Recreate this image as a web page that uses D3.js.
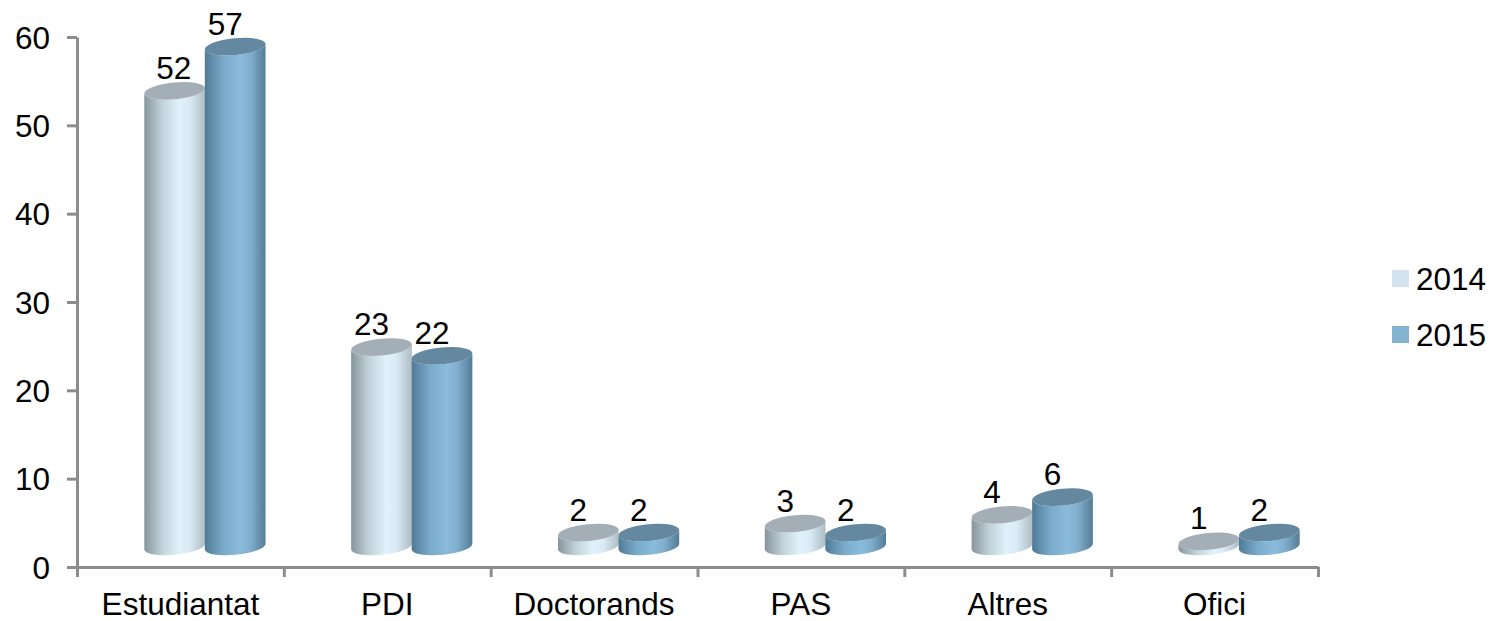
<!DOCTYPE html>
<html>
<head>
<meta charset="utf-8">
<script src="https://cdn.jsdelivr.net/npm/d3@7"></script>
<style>
  html, body { margin: 0; padding: 0; background: #fff; }
  svg { display: block; }
  text { font-family: "Liberation Sans", Arial, sans-serif; fill: #000; }
  .axis path, .axis line { stroke: #8c8c8c; stroke-width: 3; }
</style>
</head>
<body>
<svg id="chart" width="1495" height="621"></svg>
<script>
const categories = ['Estudiantat', 'PDI', 'Doctorands', 'PAS', 'Altres', 'Ofici'];
const seriesNames = ['2014', '2015'];
const values2014 = [52, 23, 2, 3, 4, 1];
const values2015 = [57, 22, 2, 2, 6, 2];
const yTicks = [0, 10, 20, 30, 40, 50, 60];

const seriesColors = ['#d4e3ee', '#84b3d1'];
const topColors = ['#a3aeb6', '#64889f'];
const gradients = [
    ['#87949c', '#c3d3dc', '#e1f2fc', '#d9eaf4', '#aebcc4'],
    ['#4f7a96', '#7aaac9', '#8abbdb', '#80afce', '#557c95']
];

const fontSize = '31.5px';

const svg = d3.select('#chart');

const x = d3.scaleBand().domain(categories).range([77, 1318]);
const xTickScale = d3.scaleLinear().domain([0, categories.length]).range([77, 1318]);
const y = d3.scaleLinear().domain([0, 60]).range([567, 37]);
const series = d3.scaleBand().domain(seriesNames).range([0, 121]);

// the 3d look of the original: bars sit up and to the right of the axes
const depthX = 24.5;
const depthY = 16.8;
const baseLift = 20.5;
const rx = 30.5;
const ry = 8.4;
const tilt = 5.5;
const dx = rx * Math.cos(tilt * Math.PI / 180);
const dy = rx * Math.sin(tilt * Math.PI / 180);

const defs = svg.append('defs');
gradients.forEach((stops, i) => {
    const g = defs.append('linearGradient').attr('id', `cyl${i}`);
    stops.forEach((c, j) => {
        g.append('stop')
         .attr('offset', [0, 0.3, 0.58, 0.75, 1][j])
         .attr('stop-color', c);
    });
});

// axes
svg.append('g')
   .attr('class', 'axis')
   .attr('transform', 'translate(77,0)')
   .call(d3.axisLeft(y).tickValues(yTicks).tickSize(10).tickPadding(17).tickSizeOuter(0))
   .selectAll('text').style('font-size', fontSize).attr('dy', '0.35em');

svg.append('g')
   .attr('class', 'axis')
   .attr('transform', 'translate(0,567)')
   .call(d3.axisBottom(xTickScale).ticks(categories.length).tickSize(10).tickSizeOuter(0).tickFormat(''));

svg.append('g')
   .attr('transform', 'translate(0,567)')
   .call(d3.axisBottom(x).tickSize(0).tickPadding(26))
   .call(g => g.select('.domain').remove())
   .selectAll('text').style('font-size', fontSize);

// cylinders
function cylinder(cx, yTop, yBottom) {
    return `M${cx - dx},${yTop + dy}` +
        `L${cx - dx},${yBottom + dy}` +
        `A${rx},${ry} ${-tilt} 0 0 ${cx + dx},${yBottom - dy}` +
        `L${cx + dx},${yTop - dy}` +
        `A${rx},${ry} ${-tilt} 0 1 ${cx - dx},${yTop + dy}Z`;
}

[values2014, values2015].forEach((vals, s) => {
    const name = seriesNames[s];
    vals.forEach((v, i) => {
        const cx = x(categories[i]) + x.bandwidth() / 2 + depthX - 60.5 + series(name) + series.bandwidth() / 2;
        const yTop = y(v) - depthY;
        svg.append('path')
           .attr('d', cylinder(cx, yTop, y(0) - baseLift))
           .attr('fill', `url(#cyl${s})`);
        svg.append('ellipse')
           .attr('cx', cx).attr('cy', yTop)
           .attr('rx', rx).attr('ry', ry)
           .attr('transform', `rotate(${-tilt} ${cx} ${yTop})`)
           .attr('fill', topColors[s]);
    });
});

// value labels go on top of every bar
[values2014, values2015].forEach((vals, s) => {
    const name = seriesNames[s];
    vals.forEach((v, i) => {
        const cx = x(categories[i]) + x.bandwidth() / 2 + depthX - 60.5 + series(name) + series.bandwidth() / 2;
        // the 52 label was moved by hand in the original
        const nudge = (s === 0 && i === 0) ? 9 : 0;
        svg.append('text')
           .attr('x', cx - 10 + nudge)
           .attr('y', y(v) - depthY - 12)
           .attr('text-anchor', 'middle')
           .style('font-size', fontSize)
           .text(v);
    });
});

// legend
seriesNames.forEach((name, i) => {
    const g = svg.append('g').attr('transform', `translate(1392,${270 + i * 56})`);
    g.append('rect').attr('width', 17).attr('height', 17).attr('fill', seriesColors[i]);
    g.append('text').attr('x', 24).attr('y', 20).style('font-size', fontSize).text(name);
});
</script>
</body>
</html>
